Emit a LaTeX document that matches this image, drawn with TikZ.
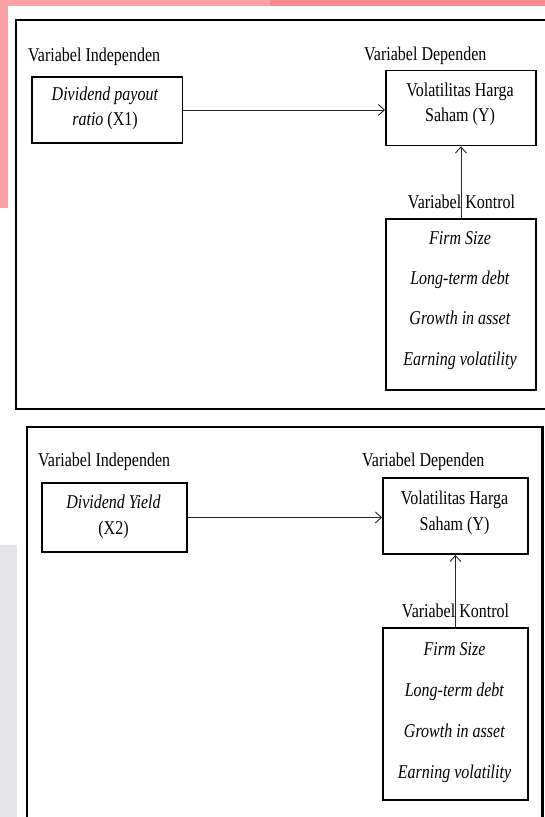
\documentclass[tikz,border=0pt]{standalone}
\usepackage{fontspec}
\usepackage{graphicx}
\setmainfont{Liberation Serif}
\usetikzlibrary{arrows.meta}
\definecolor{pinkA}{RGB}{253,160,166}
\definecolor{pinkB}{RGB}{249,137,142}
\definecolor{sidegray}{RGB}{228,228,231}
\newcommand{\vs}[1]{\scalebox{1}[1.22]{#1}}
\newcommand{\fs}{\fontsize{16}{18}\selectfont}
\tikzset{
  frame/.style={draw=black, line width=2.2pt},
  box/.style={draw=black, line width=1.9pt, inner sep=0pt, anchor=north west},
  lbl/.style={anchor=base west, inner sep=0pt, font=\fs},
  btxt/.style={anchor=base, inner sep=0pt, font=\fs},
  conn/.style={draw=black!85, line width=0.9pt, -{Straight Barb[length=6pt,width=11pt]}}
}
\begin{document}
\begin{tikzpicture}[x=1pt,y=-1pt]
\useasboundingbox (0,0) rectangle (545,817);
\fill[white] (0,0) rectangle (545,817);
\fill[pinkA] (0,0) rectangle (270,6);
\fill[pinkB] (270,0) rectangle (545,6);
\fill[pinkA] (0,0) rectangle (7.5,208);
\fill[sidegray] (0,545) rectangle (17,817);
\begin{scope}
  \clip (0,0) rectangle (545,817);
  \draw[frame] (16,20) rectangle (560,409);
  \draw[frame] (27,427) rectangle (542.5,830);
\end{scope}

% ---- top diagram ----
\node[lbl] (ind1) at (28,61) {\vs{Variabel Independen}};
\node[lbl] (dep1) at (364,60) {\vs{Variabel Dependen}};
\node[box, minimum width=150.5pt, minimum height=66pt] (x1) at (31,76) {};
\node[btxt] (x1a) at (105,100) {\vs{\textit{Dividend payout}}};
\node[btxt] (x1b) at (105,125) {\vs{\textit{ratio} (X1)}};
\node[box, minimum width=150pt, minimum height=75pt] (y1) at (385,69.5) {};
\node[btxt] (y1a) at (460,96.7) {\vs{Volatilitas Harga}};
\node[btxt] (y1b) at (460,121.7) {\vs{Saham (Y)}};
\node[btxt] (kl1) at (461.5,208) {\vs{Variabel Kontrol}};
\node[box, minimum width=150pt, minimum height=171pt] (k1) at (385,218) {};
\node[btxt] (k1a) at (460,244) {\vs{\textit{Firm Size}}};
\node[btxt] (k1b) at (460,284) {\vs{\textit{Long-term debt}}};
\node[btxt] (k1c) at (460,324) {\vs{\textit{Growth in asset}}};
\node[btxt] (k1d) at (460,365) {\vs{\textit{Earning volatility}}};
\draw[conn] (x1.east) -- (x1.east -| y1.west);
\draw[conn] (k1.north) -- (y1.south);

% ---- bottom diagram ----
\node[lbl] (ind2) at (38,466.7) {\vs{Variabel Independen}};
\node[lbl] (dep2) at (362,466.7) {\vs{Variabel Dependen}};
\node[box, minimum width=145pt, minimum height=69pt] (x2) at (41,482) {};
\node[btxt] (x2a) at (113.5,508) {\vs{\textit{Dividend Yield}}};
\node[btxt] (x2b) at (113.5,534) {\vs{(X2)}};
\node[box, minimum width=145pt, minimum height=76pt] (y2) at (382,477) {};
\node[btxt] (y2a) at (454.5,504) {\vs{Volatilitas Harga}};
\node[btxt] (y2b) at (454.5,530) {\vs{Saham (Y)}};
\node[btxt] (kl2) at (455.5,617) {\vs{Variabel Kontrol}};
\node[box, minimum width=145pt, minimum height=172pt] (k2) at (382,627) {};
\node[btxt] (k2a) at (454.5,655) {\vs{\textit{Firm Size}}};
\node[btxt] (k2b) at (454.5,696) {\vs{\textit{Long-term debt}}};
\node[btxt] (k2c) at (454.5,737) {\vs{\textit{Growth in asset}}};
\node[btxt] (k2d) at (454.5,778) {\vs{\textit{Earning volatility}}};
\draw[conn] (x2.east) -- (x2.east -| y2.west);
\draw[conn] (k2.north) -- (y2.south);
\end{tikzpicture}
\end{document}
